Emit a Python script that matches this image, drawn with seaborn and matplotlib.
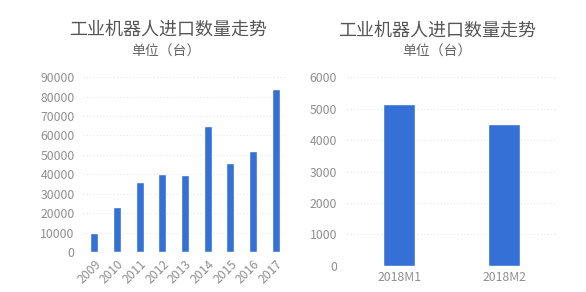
import matplotlib
matplotlib.use("Agg")
import matplotlib.pyplot as plt
import seaborn as sns
import pandas as pd

years = ["2009", "2010", "2011", "2012", "2013", "2014", "2015", "2016", "2017"]
year_values = [10000, 23000, 36100, 40200, 39500, 64600, 46000, 51900, 84000]
months = ["2018M1", "2018M2"]
month_values = [5150, 4510]
title = "工业机器人进口数量走势"
subtitle = "单位（台）"

sns.set_theme(style="white")
plt.rcParams['font.family'] = ['Noto Sans CJK SC', 'DejaVu Sans']

bar_color = "#3470D6"
tick_color = "#8f8f8f"

fig = plt.figure(figsize=(5.86, 2.92), dpi=100)
ax1 = fig.add_axes([0.1416, 0.137, 0.3482, 0.599])
ax2 = fig.add_axes([0.5916, 0.090, 0.3584, 0.645])

df1 = pd.DataFrame({"year": years, "value": year_values})
df2 = pd.DataFrame({"month": months, "value": month_values})

sns.barplot(data=df1, x="year", y="value", color=bar_color, width=0.34,
            saturation=1, ax=ax1)
sns.barplot(data=df2, x="month", y="value", color=bar_color, width=0.31,
            saturation=1, ax=ax2)

ax1.set_ylim(0, 90000)
ax1.set_yticks(range(0, 90001, 10000))
ax1.set_xlim(-0.5, 8.5)
ax2.set_ylim(0, 6000)
ax2.set_yticks(range(0, 6001, 1000))
ax2.set_xlim(-0.5, 1.5)

for ax in (ax1, ax2):
    ax.set_xlabel("")
    ax.set_ylabel("")
    for s in ax.spines.values():
        s.set_visible(False)
    ax.yaxis.grid(True, linestyle=(0, (1, 2)), color="#e6e6e6", linewidth=0.8)
    ax.set_axisbelow(True)
    ax.tick_params(axis="both", length=0, colors=tick_color, labelsize=8.8)

ax1.tick_params(axis="y", pad=6)
ax2.tick_params(axis="y", pad=7)
for lab in ax1.get_xticklabels():
    lab.set_rotation(45)
    lab.set_ha("right")
    lab.set_rotation_mode("anchor")
ax1.tick_params(axis="x", pad=4)
ax2.tick_params(axis="x", pad=4)

fig.text(168 / 586, 1 - 30 / 292, title, ha="center", va="center",
         fontsize=13, color="#555555")
fig.text(166 / 586, 1 - 52 / 292, subtitle, ha="center", va="center",
         fontsize=10, color="#666666")
fig.text(437 / 586, 1 - 31 / 292, title, ha="center", va="center",
         fontsize=13, color="#555555")
fig.text(437 / 586, 1 - 52 / 292, subtitle, ha="center", va="center",
         fontsize=10, color="#666666")

fig.savefig("out.png", dpi=100)
